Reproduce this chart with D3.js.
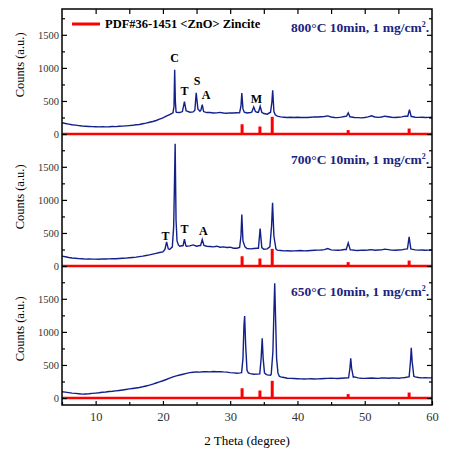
<!DOCTYPE html>
<html>
<head>
<meta charset="utf-8">
<script src="https://cdn.jsdelivr.net/npm/d3@7"></script>
<style>
  body { margin: 0; background: #fff; }
  text { font-family: "Liberation Serif", "Times New Roman", serif; }
</style>
</head>
<body>
<div class="chart"></div>
<script>
// background scans, one value every 0.5 degree from 5 to 60
var bgAngles = d3.range(5, 60.01, 0.5);

var bg800 = [
  170,160,150,140,135,128,122,118,115,112,
  110,108,112,108,110,114,112,118,120,124,
  128,132,140,145,155,165,178,190,205,225,
  245,270,295,315,330,325,340,350,330,335,
  350,345,335,325,325,318,320,328,318,315,
  320,318,322,330,340,318,325,360,330,360,
  310,300,340,300,270,260,255,250,255,250,
  255,250,252,250,255,260,258,262,265,275,
  258,250,248,255,265,315,258,250,248,245,
  250,260,275,258,252,258,270,262,255,250,
  255,260,270,330,265,255,252,255,250,252,
  255
];
var bg700 = [
  150,140,130,122,118,112,110,105,106,104,
  105,103,108,106,108,112,110,115,118,120,
  125,130,135,142,150,160,168,180,192,205,
  215,240,250,300,320,300,310,300,305,320,
  300,310,320,300,295,290,300,285,290,280,
  285,270,270,290,300,265,260,265,270,300,
  255,260,300,280,240,235,230,232,228,230,
  232,235,230,232,235,238,240,242,248,265,
  245,240,238,242,250,300,245,238,235,240,
  238,242,248,240,242,245,255,248,240,238,
  242,245,255,380,255,245,240,242,238,240,
  242
];
var bg650 = [
  95,90,82,75,70,65,60,62,65,70,
  75,80,88,92,98,102,108,115,122,130,
  138,145,152,160,170,182,195,210,228,245,
  262,280,300,320,335,348,360,372,385,390,
  395,392,398,400,395,402,398,400,395,392,
  385,380,375,380,385,390,370,360,362,360,
  355,350,345,340,330,320,310,300,298,295,
  292,290,288,290,292,288,290,292,295,298,
  300,298,295,300,302,305,310,320,305,300,
  298,300,302,300,298,302,305,300,302,305,
  300,305,310,320,325,320,310,305,308,305,
  305
];

// peaks: [2theta, counts] points
var peaks800 = [
  [[21.5,320],[21.65,420],[21.75,970],[21.85,500],[21.95,340]],
  [[22.9,340],[23.2,490],[23.45,350]],
  [[24.75,360],[24.95,625],[25.2,380]],
  [[25.65,360],[25.85,445],[26.05,340]],
  [[31.4,320],[31.6,420],[31.73,620],[31.9,380],[32.1,330]],
  [[33.2,330],[33.5,410],[33.75,340]],
  [[34.2,330],[34.46,420],[34.7,330]],
  [[36.0,330],[36.2,480],[36.32,660],[36.5,340],[36.7,290]],
  [[47.3,270],[47.55,320],[47.8,260]],
  [[56.4,270],[56.65,370],[56.9,265]]
];
var peaks700 = [
  [[20.3,250],[20.55,365],[20.8,260]],
  [[21.4,290],[21.6,600],[21.7,1150],[21.82,1850],[21.95,700],[22.1,380],[22.3,320]],
  [[23.0,310],[23.2,405],[23.4,310]],
  [[25.6,310],[25.85,400],[26.1,310]],
  [[31.4,280],[31.6,450],[31.73,780],[31.9,380],[32.2,290]],
  [[34.2,270],[34.45,565],[34.7,280]],
  [[35.9,290],[36.15,600],[36.3,955],[36.5,450],[36.8,260]],
  [[47.25,250],[47.55,350],[47.85,245]],
  [[56.35,260],[56.6,440],[56.85,260]]
];
var peaks650 = [
  [[31.7,385],[31.9,600],[32.05,1100],[32.15,1240],[32.3,800],[32.5,420],[32.7,380]],
  [[34.4,365],[34.6,600],[34.76,905],[34.9,600],[35.1,380],[35.3,360]],
  [[36.1,360],[36.35,700],[36.5,1300],[36.62,1735],[36.75,1200],[36.9,600],[37.1,380],[37.3,330]],
  [[47.6,305],[47.8,450],[47.92,600],[48.05,450],[48.3,315]],
  [[56.6,320],[56.8,550],[56.92,760],[57.05,550],[57.3,330]]
];

// PDF#36-1451 ZnO reference lines
var refAngles = [31.77, 34.42, 36.25, 47.54, 56.6];
var refIntensity = [57, 44, 100, 23, 32];

var panelLabels = ["800°C 10min, 1 mg/cm", "700°C 10min, 1 mg/cm", "650°C 10min, 1 mg/cm"];
var panelLetters = [
  [["C", 21.75, 1095], ["T", 23.2, 590], ["S", 25.1, 740], ["A", 26.4, 525], ["M", 33.9, 465]],
  [["T", 20.4, 393], ["T", 23.2, 503], ["A", 26.0, 468]],
  []
];

var yMajor = [0, 500, 1000, 1500];
var yMinor = [250, 750, 1250, 1750];
var xMajor = [10, 20, 30, 40, 50, 60];
var xMinor = [5, 15, 25, 35, 45, 55];
var xTop = [10, 15, 20, 25, 30, 35, 40, 45, 50, 55];

var svgWidth = 450;
var svgHeight = 451;
var margin = {top: 9, right: 18, bottom: 46, left: 62};
var width = svgWidth - margin.left - margin.right;
var panelH = 132;

var svg = d3.select(".chart")
  .append("svg")
  .attr("width", svgWidth)
  .attr("height", svgHeight);

var chartGroup = svg.append("g")
  .attr("transform", `translate(${margin.left}, ${margin.top})`);

var xScale = d3.scaleLinear().domain([5, 60]).range([0, width]);
var yScale = d3.scaleLinear().domain([-105, 1890]).range([panelH, 0]);

function buildSeries(bg, peaks) {
  var pts = bgAngles.map((a, i) => [a, bg[i]]);
  peaks.forEach(function(pk) {
    var lo = pk[0][0], hi = pk[pk.length - 1][0];
    pts = pts.filter(p => p[0] < lo || p[0] > hi).concat(pk);
  });
  return pts.sort((a, b) => a[0] - b[0]);
}

var series = [buildSeries(bg800, peaks800), buildSeries(bg700, peaks700), buildSeries(bg650, peaks650)];

var line = d3.line()
  .x(d => xScale(d[0]))
  .y(d => yScale(d[1]));

function styleAxis(g) {
  g.select(".domain").remove();
  g.selectAll("line").attr("stroke", "#000").attr("stroke-width", 1.2);
  g.selectAll("text").attr("fill", "#333");
}

series.forEach(function(data, i) {
  var panel = chartGroup.append("g")
    .attr("transform", `translate(0, ${i * panelH})`);

  // reference zero line and bars
  panel.append("line")
    .attr("x1", 0).attr("x2", width)
    .attr("y1", yScale(0)).attr("y2", yScale(0))
    .attr("stroke", "#ff0000").attr("stroke-width", 2.5);

  panel.selectAll(".ref")
    .data(refAngles)
    .enter()
    .append("line")
    .attr("x1", d => xScale(d)).attr("x2", d => xScale(d))
    .attr("y1", yScale(0))
    .attr("y2", (d, j) => yScale(refIntensity[j] * 2.6))
    .attr("stroke", "#ff0000").attr("stroke-width", 3);

  panel.append("path")
    .datum(data)
    .attr("d", line)
    .attr("fill", "none")
    .attr("stroke", "#14208a")
    .attr("stroke-width", 1.4);

  // left axis
  panel.append("g")
    .call(d3.axisLeft(yScale).tickValues(yMajor).tickSize(-5).tickPadding(3).tickFormat(d3.format("d")))
    .attr("font-size", 10.5)
    .call(styleAxis);
  panel.append("g")
    .call(d3.axisLeft(yScale).tickValues(yMinor).tickSize(-3).tickFormat(""))
    .call(styleAxis);

  // right axis
  panel.append("g")
    .attr("transform", `translate(${width}, 0)`)
    .call(d3.axisRight(yScale).tickValues(yMajor).tickSize(-5).tickFormat(""))
    .call(styleAxis);
  panel.append("g")
    .attr("transform", `translate(${width}, 0)`)
    .call(d3.axisRight(yScale).tickValues(yMinor).tickSize(-3).tickFormat(""))
    .call(styleAxis);

  // y label
  panel.append("text")
    .attr("transform", `translate(${-38}, ${yScale(1000) - 3}) rotate(-90)`)
    .attr("text-anchor", "middle")
    .attr("font-size", 12.5)
    .attr("fill", "#000")
    .text("Counts (a.u.)");

  // temperature label
  var lab = panel.append("text")
    .attr("x", width - 3)
    .attr("y", 23)
    .attr("text-anchor", "end")
    .attr("font-size", 13.5)
    .attr("font-weight", "bold")
    .attr("fill", "#1a237e");
  lab.append("tspan").text(panelLabels[i]);
  lab.append("tspan").attr("dy", -5).attr("font-size", 8).text("2");
  lab.append("tspan").attr("dy", 5).text(".");

  panel.selectAll(".letter")
    .data(panelLetters[i])
    .enter()
    .append("text")
    .attr("x", d => xScale(d[1]))
    .attr("y", d => yScale(d[2]))
    .attr("text-anchor", "middle")
    .attr("font-size", 12)
    .attr("font-weight", "bold")
    .attr("fill", "#000")
    .text(d => d[0]);
});

// top ticks
chartGroup.append("g")
  .call(d3.axisTop(xScale).tickValues(xTop).tickSize(-5).tickFormat(""))
  .call(styleAxis);

// bottom axis
var bottomG = chartGroup.append("g")
  .attr("transform", `translate(0, ${3 * panelH})`);
bottomG.append("g")
  .call(d3.axisBottom(xScale).tickValues(xMajor).tickSize(-4).tickPadding(7))
  .attr("font-size", 12.5)
  .call(styleAxis);
bottomG.append("g")
  .call(d3.axisBottom(xScale).tickValues(xMinor).tickSize(-3).tickFormat(""))
  .call(styleAxis);

// frame
chartGroup.append("rect")
  .attr("x", 0).attr("y", 0)
  .attr("width", width).attr("height", 3 * panelH)
  .attr("fill", "none")
  .attr("stroke", "#000")
  .attr("stroke-width", 1.5);

chartGroup.append("text")
  .attr("x", width / 2)
  .attr("y", 3 * panelH + 40)
  .attr("text-anchor", "middle")
  .attr("font-size", 13)
  .attr("fill", "#000")
  .text("2 Theta (degree)");

// legend
chartGroup.append("line")
  .attr("x1", 10).attr("x2", 38)
  .attr("y1", 15).attr("y2", 15)
  .attr("stroke", "#ff0000").attr("stroke-width", 3);
chartGroup.append("text")
  .attr("x", 43)
  .attr("y", 19)
  .attr("font-size", 12.5)
  .attr("font-weight", "bold")
  .attr("fill", "#000")
  .text("PDF#36-1451 <ZnO> Zincite");
</script>
</body>
</html>
